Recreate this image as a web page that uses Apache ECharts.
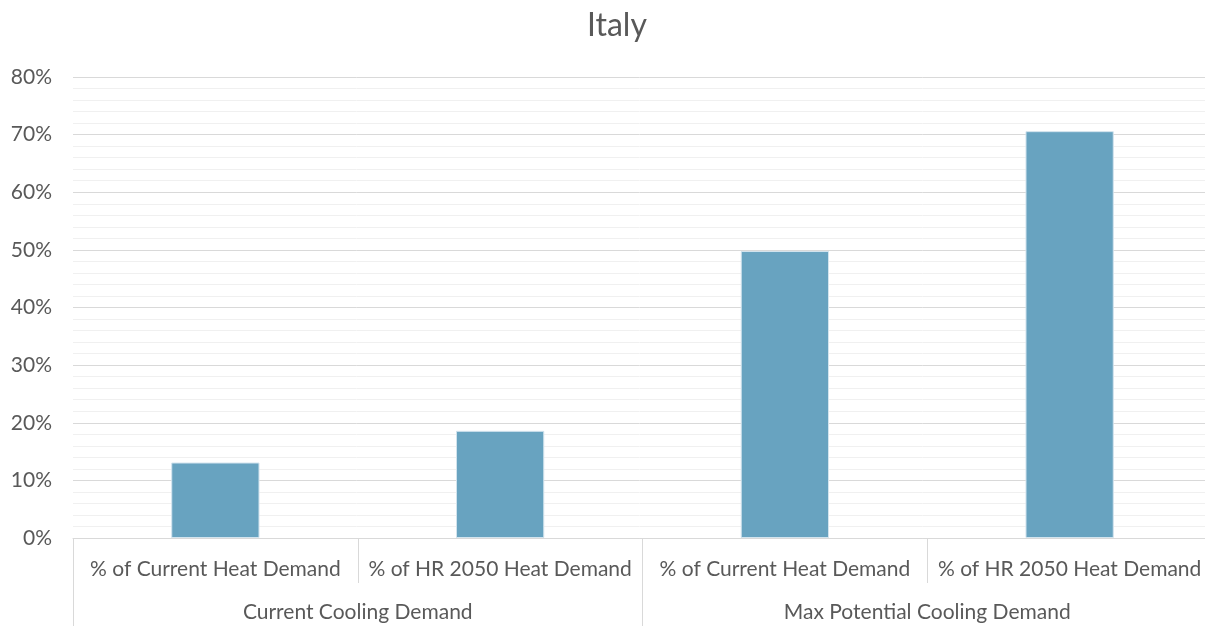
<!DOCTYPE html>
<html>
<head>
<meta charset="utf-8">
<script src="https://cdn.jsdelivr.net/npm/echarts@6/dist/echarts.min.js"></script>
<style>
  html, body { margin: 0; padding: 0; background: #fff; }
  #chart { width: 1205px; height: 626px; }
</style>
</head>
<body>
<div id="chart"></div>
<script>
// data
var categories = ['% of Current Heat Demand', '% of HR 2050 Heat Demand', '% of Current Heat Demand', '% of HR 2050 Heat Demand'];
var groups = ['Current Cooling Demand', 'Max Potential Cooling Demand'];
var values = [13.1, 18.6, 49.8, 70.6];

var chartDom = document.getElementById('chart');
var myChart = echarts.init(chartDom);
var option;

var textColor = '#595959';
var font = 'Lato';

option = {
  animation: false,
  title: {
    text: 'Italy',
    left: 582,
    top: 5,
    textStyle: { fontFamily: font, fontSize: 32, fontWeight: 'normal', color: textColor }
  },
  grid: {
    left: 73,
    right: -7,
    top: 77,
    bottom: 88,
    outerBoundsMode: 'none',
    containLabel: false
  },
  xAxis: [
    {
      type: 'category',
      data: categories,
      axisLine: { lineStyle: { color: '#d9d9d9', width: 1 } },
      axisTick: { show: true, interval: 0, length: 45, lineStyle: { color: '#d9d9d9' } },
      axisLabel: { interval: 0, margin: 21, fontFamily: font, fontSize: 21, color: textColor }
    },
    {
      type: 'category',
      position: 'bottom',
      offset: 45,
      data: groups,
      axisLine: { show: false },
      axisTick: { show: true, interval: 0, length: 45, lineStyle: { color: '#d9d9d9' } },
      axisLabel: { interval: 0, margin: 19, fontFamily: font, fontSize: 21, color: textColor }
    }
  ],
  yAxis: {
    type: 'value',
    min: 0,
    max: 80,
    interval: 10,
    axisLine: { show: false },
    axisTick: { show: false },
    axisLabel: { formatter: '{value}%', margin: 21, fontFamily: font, fontSize: 21, color: textColor },
    splitLine: { lineStyle: { color: '#d9d9d9', width: 1 } },
    minorTick: { show: false, splitNumber: 5 },
    minorSplitLine: { show: true, lineStyle: { color: '#f0f0f0', width: 1 } }
  },
  series: [
    {
      type: 'bar',
      xAxisIndex: 0,
      data: values,
      barWidth: '31%',
      itemStyle: { color: '#68a3c0', borderColor: '#d3e4ee', borderWidth: 1 }
    }
  ]
};

option && myChart.setOption(option);
</script>
</body>
</html>
